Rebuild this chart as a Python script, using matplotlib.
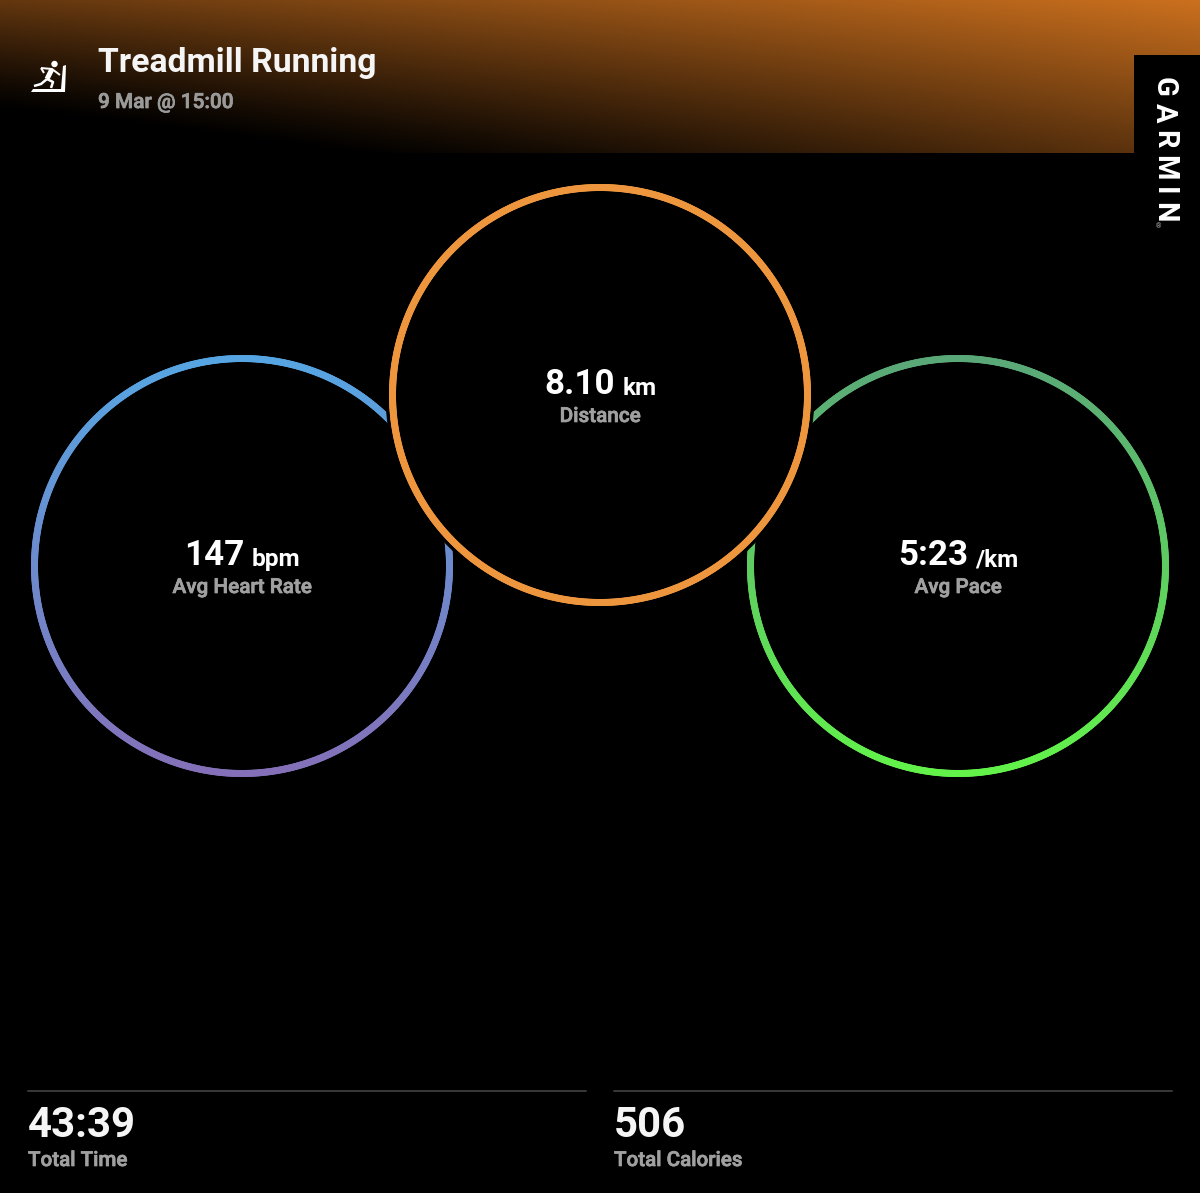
import numpy as np
import matplotlib
matplotlib.use("Agg")
import matplotlib.pyplot as plt
import matplotlib.patheffects as pe
from matplotlib.collections import LineCollection
from matplotlib.colors import LinearSegmentedColormap
from matplotlib.patches import Circle, Rectangle, Polygon

plt.rcParams['font.family'] = ['Roboto', 'DejaVu Sans']

TITLE = "Treadmill Running"
SUBTITLE = "9 Mar @ 15:00"
BRAND = "GARMIN"
ring_values = ["147", "8.10", "5:23"]
ring_units = ["bpm", "km", "/km"]
ring_labels = ["Avg Heart Rate", "Distance", "Avg Pace"]
ring_colors = [("#56a5e2", "#8470b8"), ("#ee963e", "#ee963e"), ("#5aa878", "#62f24a")]
total_values = ["43:39", "506"]
total_labels = ["Total Time", "Total Calories"]

W, H = 1200, 1193
fig = plt.figure(figsize=(W / 100, H / 100), dpi=100, facecolor="black")
ax = fig.add_axes([0, 0, 1, 1])
ax.set_xlim(0, W)
ax.set_ylim(H, 0)
ax.axis("off")
PT = 0.72
thick = [pe.withStroke(linewidth=0.5, foreground="#a0a0a0")]

# header gradient
hh = 153
yy, xx = np.mgrid[0:hh, 0:W]
t = np.clip((1 - yy / hh) * 0.62 + 0.38 * xx / W + (xx / W) * 0.12 * (yy / hh) * 2 - 0.18, 0, 1)
t = np.clip(t / 0.82, 0, 1) ** 1.15
rgb = np.dstack([t * 203, t * 112, t * 30]) / 255
ax.imshow(rgb, extent=(0, W, hh, 0), aspect="auto", zorder=1, interpolation="bilinear")
ax.set_xlim(0, W)
ax.set_ylim(H, 0)
ax.add_patch(Rectangle((1134, 55), 66, 100, fc="black", ec="none", zorder=2))


def ring(cx, cy, colors, z):
    r = 207.5
    th = np.linspace(0, 2 * np.pi, 721)
    x, y = cx + r * np.cos(th), cy + r * np.sin(th)
    pts = np.column_stack([x, y])
    segs = np.stack([pts[:-1], pts[1:]], axis=1)
    cmap = LinearSegmentedColormap.from_list("r", colors)
    lc = LineCollection(segs, cmap=cmap, linewidths=7 * PT, zorder=z, capstyle="round")
    lc.set_array((y[:-1] - (cy - r)) / (2 * r))
    lc.set_clim(0, 1)
    ax.add_collection(lc)


centers = [(242, 566), (600, 395), (958, 566)]
ring(*centers[0], ring_colors[0], 3)
ring(*centers[2], ring_colors[2], 3)
ax.add_patch(Circle(centers[1], 214.5, fc="black", ec="none", zorder=4))
ring(*centers[1], ring_colors[1], 5)

fig.canvas.draw()
rend = fig.canvas.get_renderer()


def width(s, **kw):
    tx = ax.text(0, 0, s, **kw)
    w = tx.get_window_extent(rend).width
    tx.remove()
    return w


for (cx, cy), v, u, l in zip(centers, ring_values, ring_units, ring_labels):
    kv = dict(fontsize=35 * PT, fontweight="bold", color="white")
    ku = dict(fontsize=24.4 * PT, fontweight="bold", color="white")
    w1, w2 = width(v, **kv), width(u, **ku)
    x0 = cx - (w1 + 8 + w2) / 2
    ax.text(x0 + 1, cy - 1, v, ha="left", va="baseline", zorder=6, **kv)
    ax.text(x0 + w1 + 8, cy, u, ha="left", va="baseline", zorder=6, **ku)
    ax.text(cx, cy + 27, l, ha="center", va="baseline", fontsize=20.7 * PT,
            fontweight="medium", color="#a0a0a0", zorder=6, path_effects=thick)

ax.text(98, 72, TITLE, ha="left", va="baseline", fontsize=33.8 * PT, fontweight="bold",
        color="#f5f5f5", zorder=6)
ax.text(98, 108, SUBTITLE, ha="left", va="baseline", fontsize=20.8 * PT, fontweight="medium",
        color="#9a9a9a", zorder=6, path_effects=thick)

# rotated brand, letter spaced
ky = dict(fontsize=29 * PT, fontweight="bold", color="white")
pos = 77
for ch in BRAND:
    ax.text(1164, pos, ch, rotation=-90, ha="center", va="top", zorder=6, **ky)
    pos += width(ch, **ky) + 6.6
ax.text(1159, 226.5, "®", ha="center", va="center", fontsize=7 * PT, color="#bbbbbb", zorder=6)

# icon
ic = dict(color="white", solid_capstyle="butt", zorder=6)
ax.add_patch(Polygon([(31, 92), (65, 92), (66, 65), (63, 66), (61, 89), (33, 89)], fc="white", ec="none", zorder=6))
ax.add_patch(Circle((54.5, 64), 3.2, fc="white", ec="none", zorder=6))
for seg, lw in [([(52, 69), (47, 79)], 5), ([(41, 68), (52, 69), (60, 75)], 2),
                ([(47, 79), (53, 82), (51, 88)], 2.5), ([(47, 79), (41, 84), (34, 86)], 2.5),
                ([(41, 68), (44, 73)], 2)]:
    a = np.array(seg)
    ax.plot(a[:, 0], a[:, 1], lw=lw * PT, **ic)

# totals
for x0, x1, v, l in zip([28, 614], [586, 1172], total_values, total_labels):
    ax.plot([x0, x1], [1090.5, 1090.5], color="#4a4a4a", lw=1.5 * PT, zorder=6)
    ax.text(x0, 1137, v, ha="left", va="baseline", fontsize=42 * PT, fontweight="bold",
            color="#f5f5f5", zorder=6)
    ax.text(x0, 1166, l, ha="left", va="baseline", fontsize=20.6 * PT, fontweight="medium",
            color="#a0a0a0", zorder=6, path_effects=thick)

fig.savefig("out.png", dpi=100, facecolor="black")
